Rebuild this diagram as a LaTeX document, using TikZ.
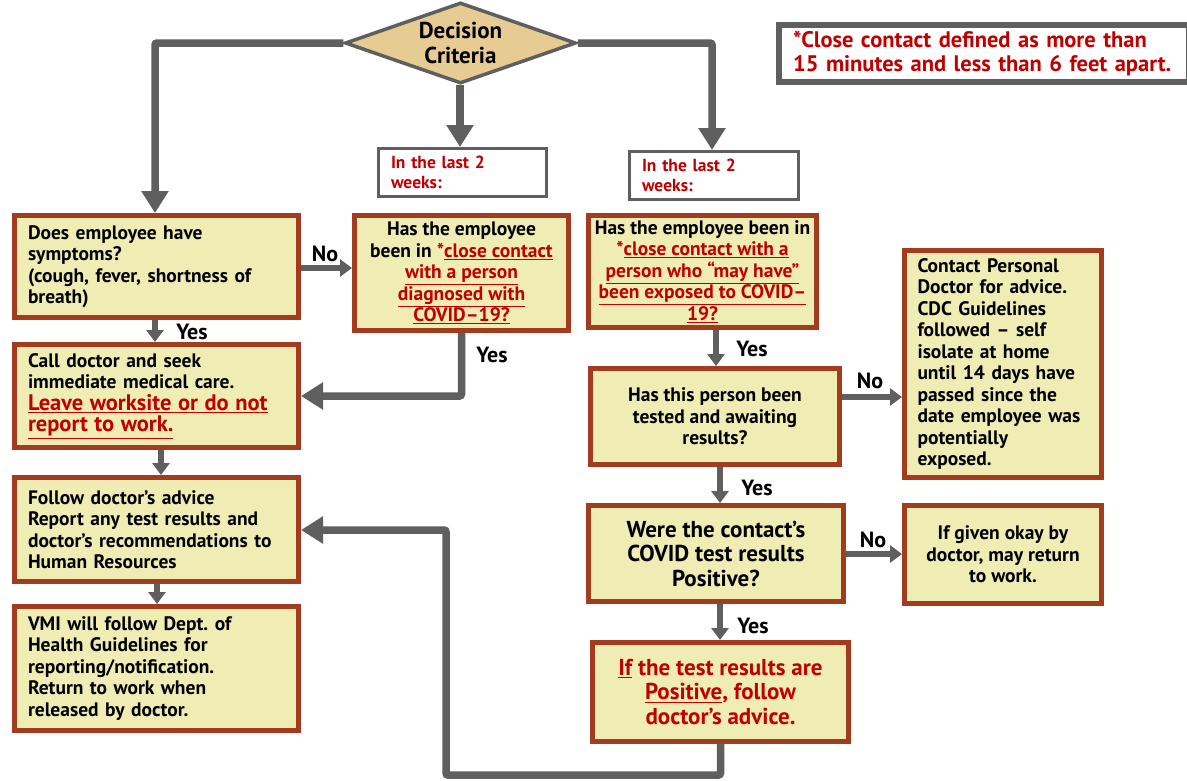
\documentclass[tikz,border=0pt]{standalone}
\usepackage{fontspec}
\setmainfont{PT Sans}
\usetikzlibrary{arrows.meta,shapes.geometric}
\frenchspacing
\definecolor{brd}{HTML}{A33B1F}
\definecolor{yel}{HTML}{EFEDB3}
\definecolor{gry}{HTML}{5F5F5F}
\definecolor{rd}{HTML}{C00000}
\definecolor{tanc}{HTML}{E6CC93}
\newcommand\redul[1]{\textcolor{rd}{\underline{#1}}}
\newcommand\fsn{\bfseries\fontsize{19.5}{21.5}\selectfont}
\newcommand\fsb{\bfseries\fontsize{23}{24.5}\selectfont}
\newcommand\fsr{\bfseries\fontsize{22.5}{23.5}\selectfont}
\newcommand\fsnote{\bfseries\fontsize{22.5}{24.5}\selectfont}
\newcommand\fsd{\bfseries\fontsize{23}{25}\selectfont}
\newcommand\fss{\bfseries\fontsize{17.5}{20.5}\selectfont}
\newcommand\fsl{\bfseries\fontsize{22}{24}\selectfont}
\tikzset{
  box/.style={draw=brd, line width=5pt, fill=yel, inner sep=0pt, font=\fsn, align=center},
  lbox/.style={box, align=left},
  wbox/.style={draw=gry, line width=3pt, fill=white, inner sep=0pt, font=\fss, text=rd, align=left},
  lbl/.style={font=\fsl, inner sep=0pt},
  big/.style={draw=gry, line width=7.5pt, rounded corners=2pt, -{Triangle[width=26pt,length=22pt]}},
  small/.style={draw=gry, line width=5.5pt, -{Triangle[width=17pt,length=12pt]}},
}
\begin{document}
\begin{tikzpicture}[x=1pt,y=-1pt]
\clip (0,0) rectangle (1187,780);
\path[use as bounding box] (0,0) rectangle (1187,780);
\fill[white] (0,0) rectangle (1187,780);

% decision diamond
\node[draw=gry, line width=3.5pt, fill=tanc, diamond, aspect=2.8, minimum width=231pt, minimum height=81pt, inner sep=0pt, font=\fsd, align=center] (dia) at (460.5,43) {Decision\\Criteria};

% note
\node[draw=gry, line width=6pt, fill=white, minimum width=410pt, minimum height=57pt, inner sep=0pt, text width=382pt, align=left, font=\fsnote, text=rd] (note) at (984,53.5) {*Close contact defined as more than\\15 minutes and less than 6 feet apart.};

% week boxes
\node[wbox, minimum width=168pt, minimum height=48pt, text width=143pt] (W1) at (462.5,172.5) {In the last 2\\weeks:};
\node[wbox, minimum width=169pt, minimum height=48pt, text width=144pt] (W2) at (714,175.5) {In the last 2\\weeks:};

% left column
\node[lbox, minimum width=284pt, minimum height=102pt, text width=257pt] (A) at (156.5,266.5) {Does employee have\\symptoms?\\(cough, fever, shortness of\\breath)};
\node[lbox, minimum width=284pt, minimum height=103pt, text width=257pt] (D) at (156.5,396) {Call doctor and seek\\immediate medical care.\\{\fsr\redul{Leave worksite or do not}}\\{\fsr\redul{report to work.}}};
\node[lbox, minimum width=284pt, minimum height=104pt, text width=257pt] (E) at (156.5,529.5) {Follow doctor’s advice\\Report any test results and\\doctor’s recommendations to\\Human Resources};
\node[lbox, minimum width=284pt, minimum height=124pt, text width=257pt] (F) at (156.5,668.5) {VMI will follow Dept. of\\Health Guidelines for\\reporting/notification.\\Return to work when\\released by doctor.};

% middle
\node[box, minimum width=214pt, minimum height=115pt] (B) at (461.5,273) {Has the employee\\been in \textcolor{rd}{*}\redul{close contact}\\\redul{with a person}\\\redul{diagnosed with}\\\redul{COVID–19?}};

% right column
\node[box, minimum width=228pt, minimum height=112pt] (C) at (702.5,271.5) {Has the employee been in\\\textcolor{rd}{*}\redul{close contact with a}\\\redul{person who “may have”}\\\redul{been exposed to COVID–}\\\redul{19?}};
\node[box, minimum width=249pt, minimum height=96pt] (G) at (715,416.5) {Has this person been\\tested and awaiting\\results?};
\node[box, minimum width=255pt, minimum height=96pt, font=\fsb] (I) at (716,553.5) {Were the contact’s\\COVID test results\\Positive?};
\node[box, minimum width=256pt, minimum height=99pt, font=\fsb, text=rd] (K) at (720.5,692) {\underline{If} the test results are\\\underline{Positive}, follow\\doctor’s advice.};
\node[lbox, minimum width=197pt, minimum height=227pt, text width=171pt] (H) at (1003,364) {Contact Personal\\Doctor for advice.\\CDC Guidelines\\followed – self\\isolate at home\\until 14 days have\\passed since the\\date employee was\\potentially\\exposed.};
\node[box, minimum width=197pt, minimum height=98pt] (J) at (1003,554.5) {If given okay by\\doctor, may return\\to work.};

% helper coordinates
\coordinate (yAB) at (0,268);
\coordinate (yGH) at (0,397);
\coordinate (yIJ) at (0,554);
\coordinate (xAD) at (155,0);
\coordinate (xDE) at (161,0);
\coordinate (xEF) at (157,0);
\coordinate (xCG) at (716,0);
\coordinate (xGI) at (720,0);
\coordinate (yBot) at (0,775);
\coordinate (xLoop) at (446,0);
\coordinate (yLoop) at (0,530);
\coordinate (xL) at (155,0);
\coordinate (xR) at (712,0);
\coordinate (xM) at (460,0);

% connectors from diamond
\draw[big] (dia.west) -| (xL |- A.north);
\draw[big] (dia.east) -| (xR |- W2.north);
\draw[big] (xM |- dia.south) -- (xM |- W1.north);

% left flow
\draw[small] (A.east |- yAB) -- (B.west |- yAB);
\draw[small] (xAD |- A.south) -- (xAD |- D.north);
\draw[big] (B.south) |- (D.east);
\draw[small] (xDE |- D.south) -- (xDE |- E.north);
\draw[small] (xEF |- E.south) -- (xEF |- F.north);

% right flow
\draw[small] (xCG |- C.south) -- (xCG |- G.north);
\draw[small] (G.east |- yGH) -- (H.west |- yGH);
\draw[small] (xGI |- G.south) -- (xGI |- I.north);
\draw[small] (I.east |- yIJ) -- (J.west |- yIJ);
\draw[small] (xGI |- I.south) -- (xGI |- K.north);
\draw[big] (K.south) -- (K.south |- yBot) -| (xLoop |- yLoop) -- (E.east |- yLoop);

% labels
\node[lbl] (lNo1) at (325,254) {No};
\node[lbl] (lYes1) at (192,332) {Yes};
\node[lbl] (lYes2) at (492,355) {Yes};
\node[lbl] (lYes3) at (752,349) {Yes};
\node[lbl] (lNo2) at (870,381) {No};
\node[lbl] (lYes4) at (757,488) {Yes};
\node[lbl] (lNo3) at (873,540) {No};
\node[lbl] (lYes5) at (753,626) {Yes};
\end{tikzpicture}
\end{document}
